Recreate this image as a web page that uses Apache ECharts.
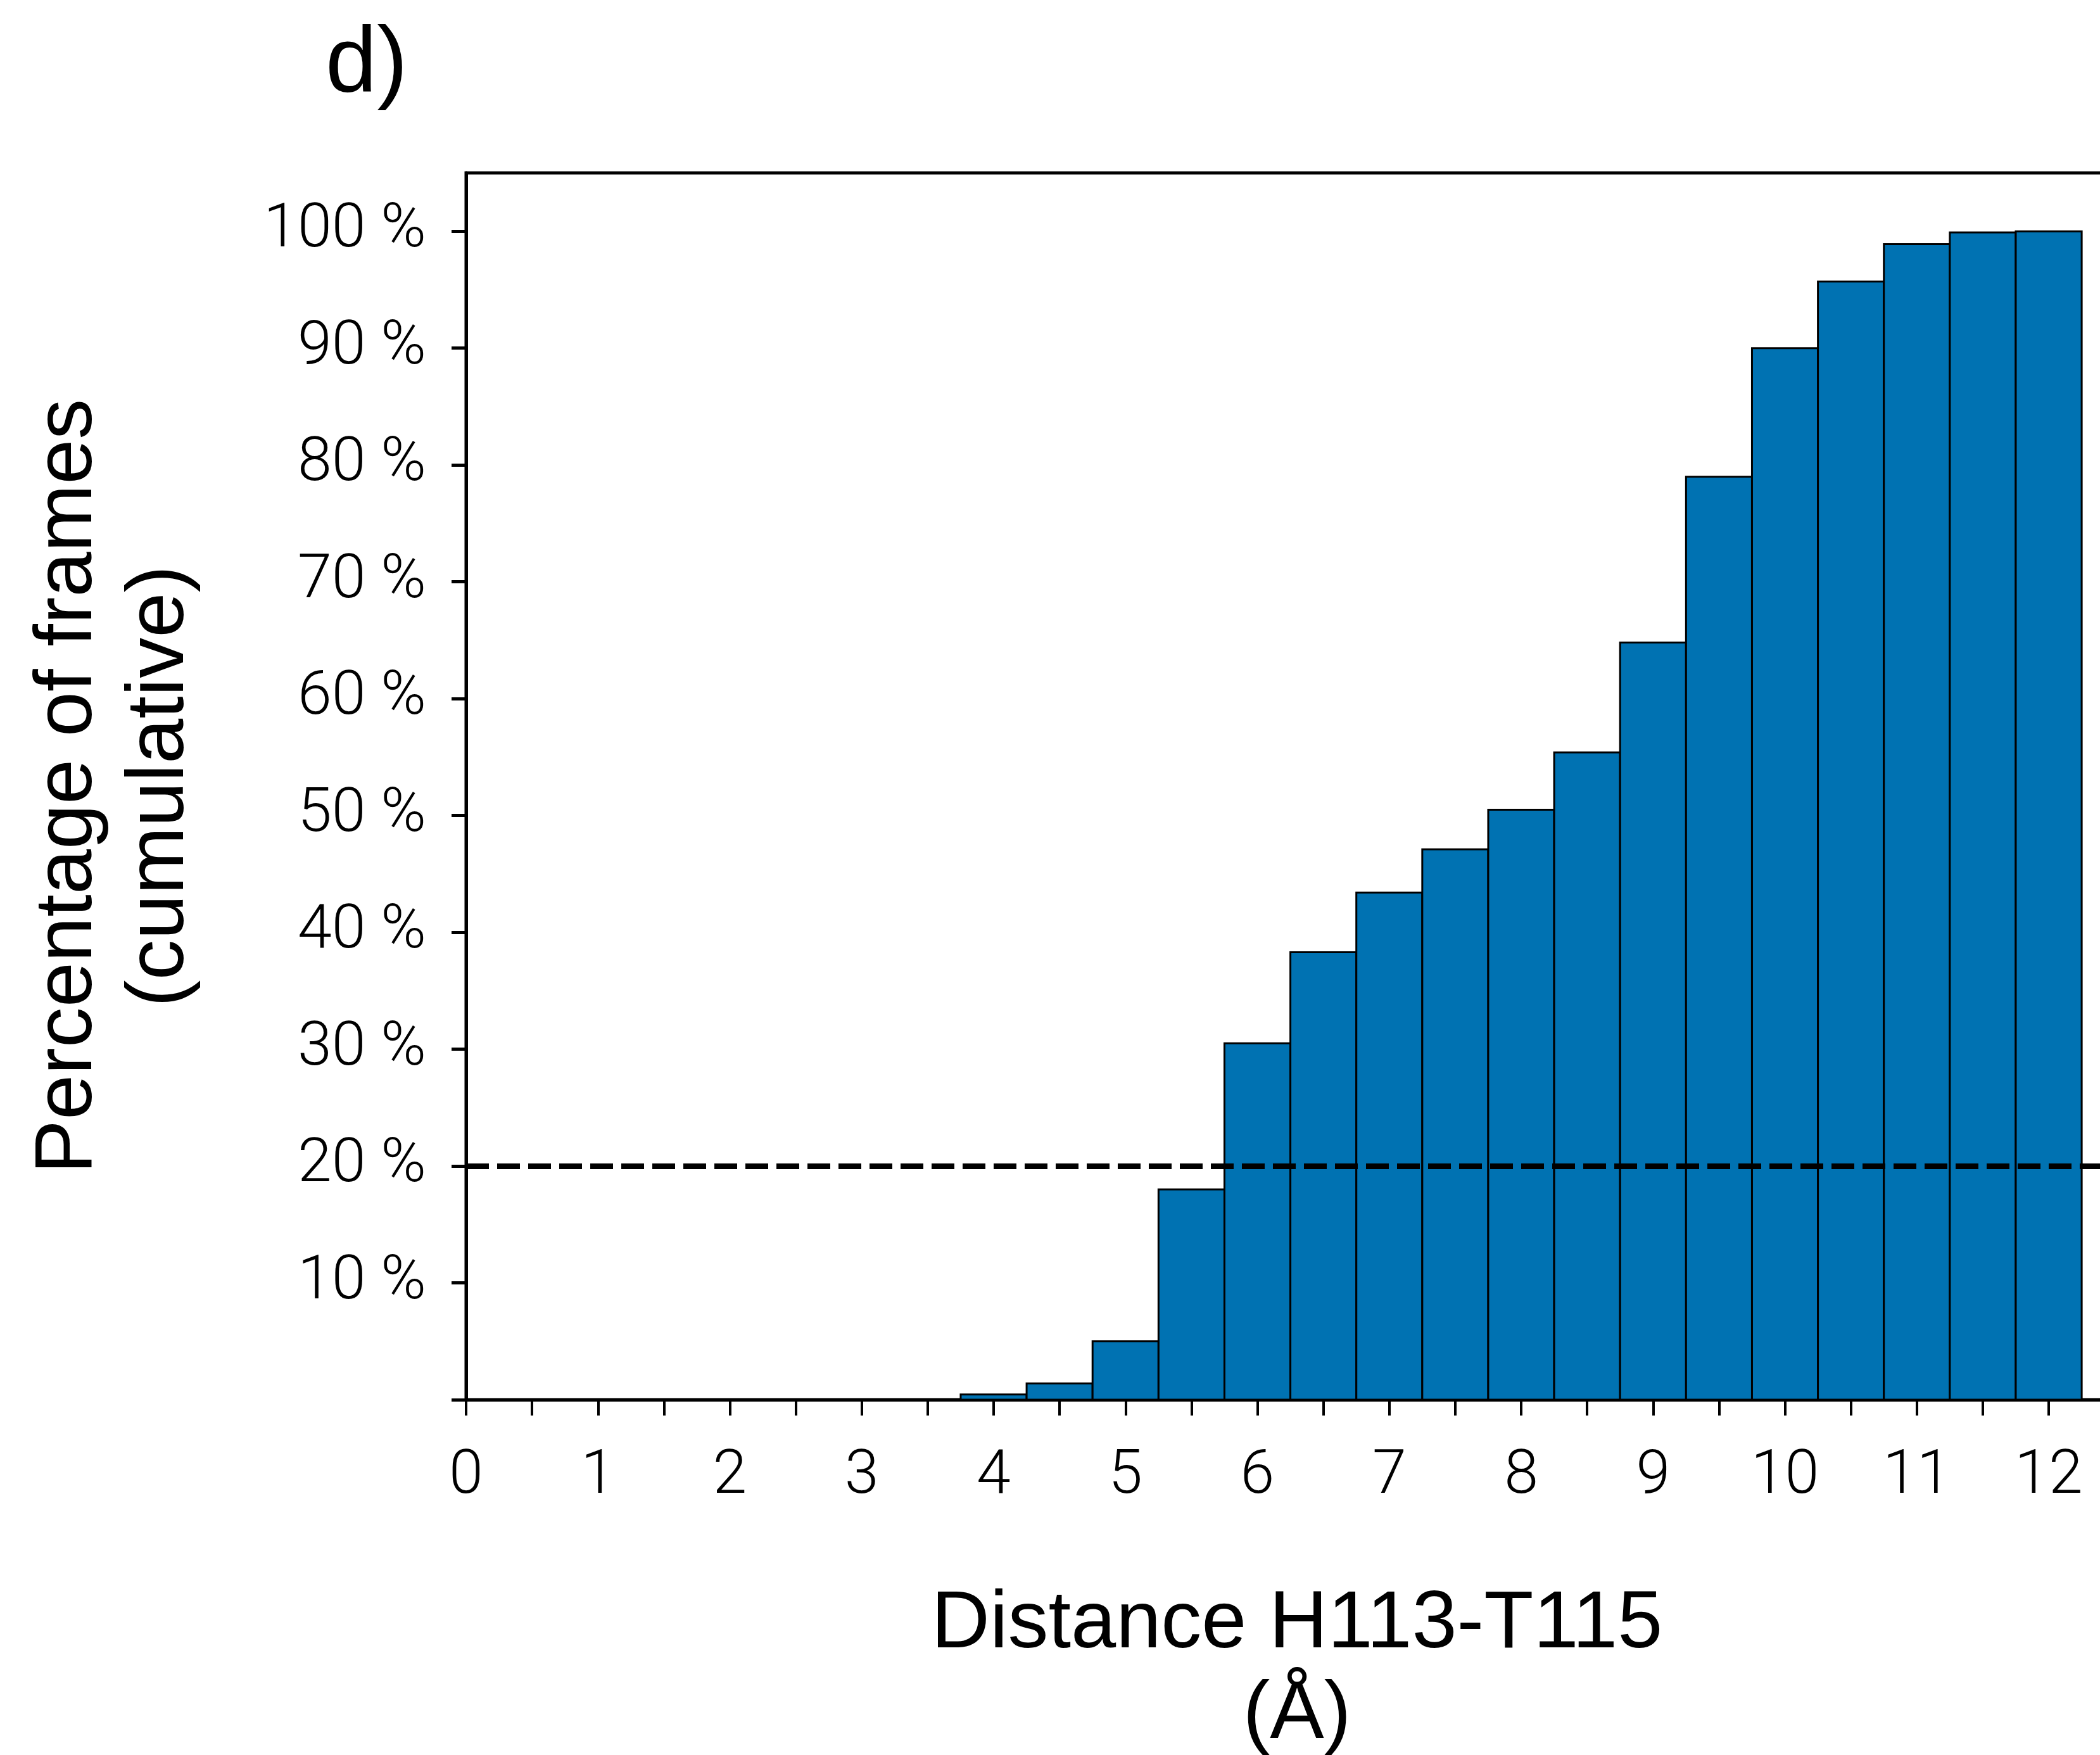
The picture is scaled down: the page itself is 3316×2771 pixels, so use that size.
<!DOCTYPE html>
<html>
<head>
<meta charset="utf-8">
<script src="https://cdn.jsdelivr.net/npm/echarts@6/dist/echarts.min.js"></script>
<style>
html,body{margin:0;padding:0;background:#fff;overflow:hidden;}
#chart{width:3316px;height:2771px;}
</style>
</head>
<body>
<div id="chart"></div>
<script>
// ---- data ----
const binCenters = [4, 4.5, 5, 5.5, 6, 6.5, 7, 7.5, 8, 8.5, 9, 9.5, 10, 10.5, 11, 11.5, 12];
const cumulativePct = [0.45, 1.4, 5.0, 18.0, 30.5, 38.3, 43.4, 47.1, 50.5, 55.4, 64.8, 79.0, 90.0, 95.7, 98.9, 99.9, 100.0];
const binWidth = 0.5;
const threshold = 20;
const xTickValues = [0, 0.5, 1, 1.5, 2, 2.5, 3, 3.5, 4, 4.5, 5, 5.5, 6, 6.5, 7, 7.5, 8, 8.5, 9, 9.5, 10, 10.5, 11, 11.5, 12];
const xLabelValues = [0, 1, 2, 3, 4, 5, 6, 7, 8, 9, 10, 11, 12];
const yTickValues = [0, 10, 20, 30, 40, 50, 60, 70, 80, 90, 100];
const yLabelValues = [10, 20, 30, 40, 50, 60, 70, 80, 90, 100];
const panelLabel = 'd)';
const xName = 'Distance H113-T115\n(Å)';
const yName = 'Percentage of frames\n(cumulative)';

const seriesData = binCenters.map((c, i) => [c, cumulativePct[i]]);

const chart = echarts.init(document.getElementById('chart'), null, {renderer: 'canvas'});
const tickFont = 'Roboto';
const titleFont = 'Liberation Sans';

chart.setOption({
  animation: false,
  backgroundColor: '#ffffff',
  title: {
    text: panelLabel,
    left: 509,
    top: 26,
    textStyle: {fontFamily: titleFont, fontSize: 146, fontWeight: 'normal', color: '#000'}
  },
  grid: {
    left: 736, top: 273, right: -44, bottom: 561,
    outerBoundsMode: 'none', containLabel: false,
    show: true, borderColor: '#000', borderWidth: 5, backgroundColor: 'transparent'
  },
  xAxis: {
    type: 'value', min: 0, max: 12.6,
    name: xName, nameLocation: 'middle', nameGap: 284,
    nameTextStyle: {fontFamily: titleFont, fontSize: 128, color: '#000', lineHeight: 143, align: 'center'},
    axisLine: {show: true, onZero: false, lineStyle: {color: '#000', width: 5}},
    axisTick: {show: true, inside: false, length: 25, customValues: xTickValues, lineStyle: {color: '#000', width: 4}},
    axisLabel: {show: true, margin: 74, customValues: xLabelValues, fontFamily: tickFont, fontWeight: 300, fontSize: 97, color: '#000',
      formatter: v => String(v)},
    splitLine: {show: false}
  },
  yAxis: {
    type: 'value', min: 0, max: 105,
    name: yName, nameLocation: 'middle', nameGap: 410, nameRotate: 90,
    nameTextStyle: {fontFamily: titleFont, fontSize: 128, color: '#000', lineHeight: 145, align: 'center'},
    axisLine: {show: true, onZero: false, lineStyle: {color: '#000', width: 5}},
    axisTick: {show: true, inside: false, length: 23, customValues: yTickValues, lineStyle: {color: '#000', width: 5}},
    axisLabel: {show: true, margin: 63, customValues: yLabelValues, fontFamily: tickFont, fontWeight: 300, fontSize: 97, color: '#000',
      formatter: v => v + ' %'},
    splitLine: {show: false}
  },
  series: [{
    type: 'custom',
    data: seriesData,
    z: 2,
    renderItem: function (params, api) {
      const x = api.value(0), v = api.value(1);
      const p0 = api.coord([x - binWidth / 2, v]);
      const p1 = api.coord([x + binWidth / 2, 0]);
      return {
        type: 'rect',
        shape: {x: p0[0], y: p0[1], width: p1[0] - p0[0], height: p1[1] - p0[1]},
        style: {fill: '#0072B2', stroke: '#000', lineWidth: 3}
      };
    },
    markLine: {
      silent: true, symbol: ['none', 'none'], z: 10,
      label: {show: false},
      lineStyle: {color: '#000', width: 9, type: [36, 13]},
      data: [{yAxis: threshold}]
    }
  }]
});
</script>
</body>
</html>
